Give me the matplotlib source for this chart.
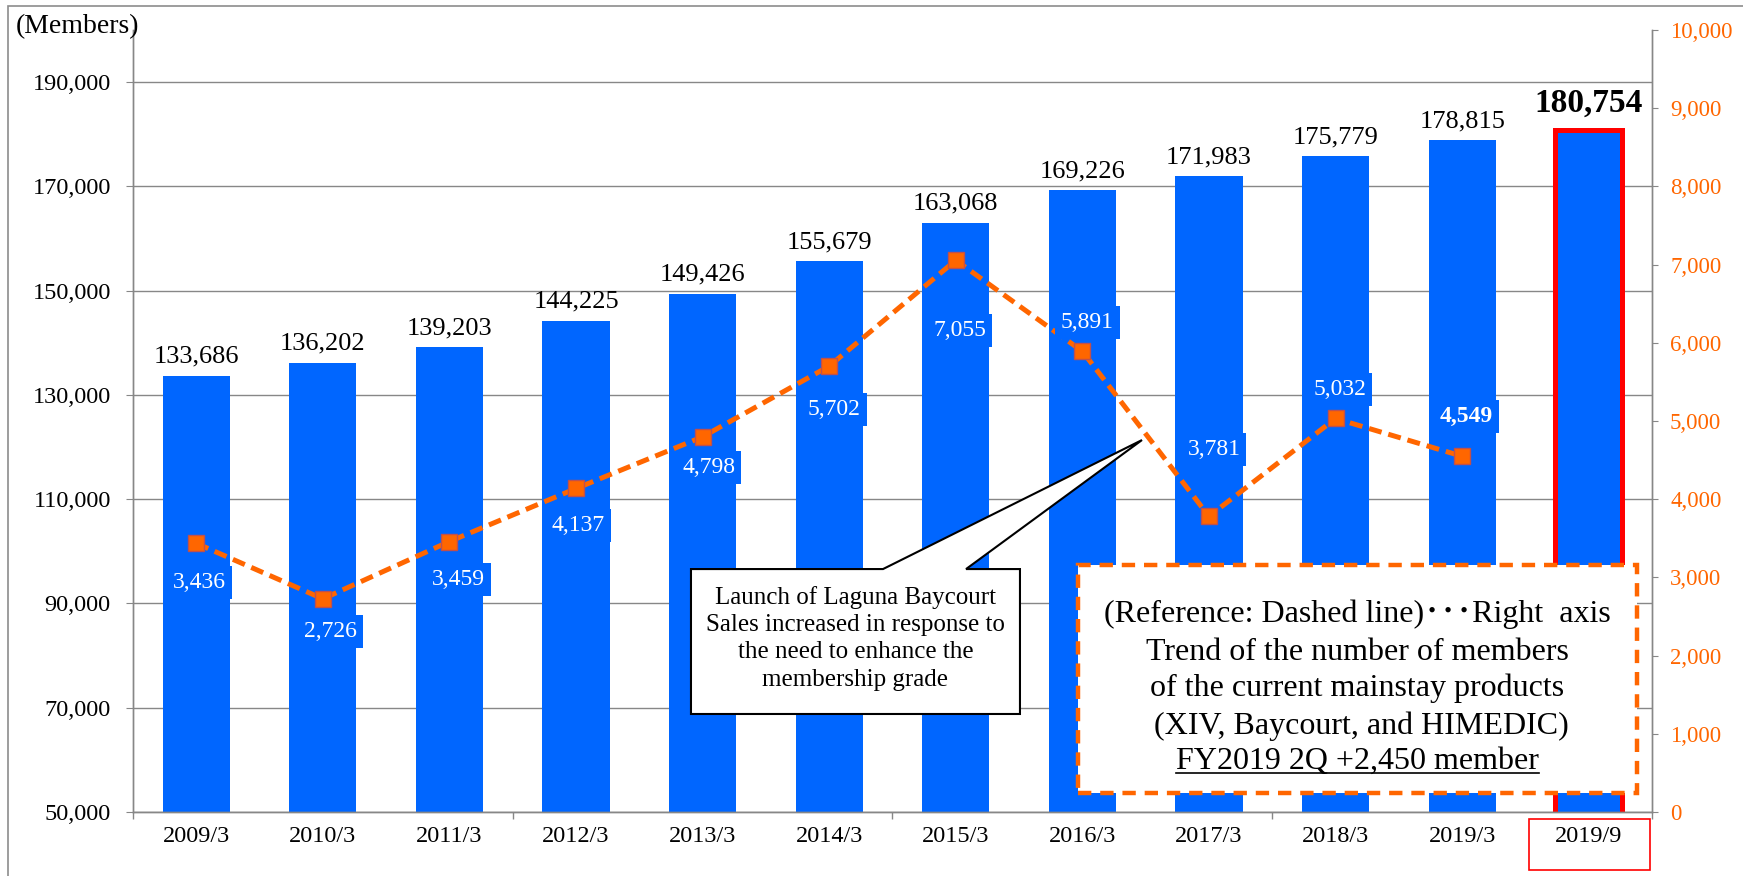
import matplotlib
matplotlib.use("Agg")
import matplotlib.pyplot as plt
from matplotlib.patches import Rectangle, Polygon
from matplotlib.lines import Line2D
from matplotlib.ticker import FuncFormatter, FixedLocator
from matplotlib.transforms import IdentityTransform

# --- data ---
periods = ['2009/3', '2010/3', '2011/3', '2012/3', '2013/3', '2014/3',
           '2015/3', '2016/3', '2017/3', '2018/3', '2019/3', '2019/9']
members = [133686, 136202, 139203, 144225, 149426, 155679,
           163068, 169226, 171983, 175779, 178815, 180754]
# mainstay products (XIV, Baycourt, HIMEDIC), right axis, no value for 2019/9
mainstay = [3436, 2726, 3459, 4137, 4798, 5702, 7055, 5891, 3781, 5032, 4549]

callout_lines = ['Launch of Laguna Baycourt', 'Sales increased in response to',
                 'the need to enhance the', 'membership grade']
note_lines = ['(Reference: Dashed line)\uff65\uff65\uff65Right  axis',
              'Trend of the number of members',
              'of the current mainstay products',
              ' (XIV, Baycourt, and HIMEDIC)',
              'FY2019 2Q +2,450 member']

# label offsets for the line values (pixels), picked to match the original
lab_off = [(3, -39), (8, -33), (9, -38), (2, -37), (6, -31), (5, -43),
           (4, -70), (5, 29), (5, 67), (4, 29), (4, 40)]

BLUE = '#0066FF'
ORANGE = '#FF6600'
GRAY = '#878787'

plt.rcParams['font.family'] = ['Liberation Serif', 'Noto Sans CJK JP']

fig = plt.figure(figsize=(17.43, 8.76), dpi=100)
ax = fig.add_axes([133 / 1743, 64 / 876, 1519 / 1743, 782 / 876])
ax2 = ax.twinx()

x = list(range(len(periods)))
bars = ax.bar(x, members, width=0.53, color=BLUE, zorder=2)
bars[-1].set_edgecolor('#FF0000')
bars[-1].set_linewidth(3.6)

ax.set_xlim(-0.5, len(periods) - 0.5)
ax.set_ylim(50000, 200000)
ax.set_yticks(range(50000, 190001, 20000))
ax.yaxis.set_major_formatter(FuncFormatter(lambda v, p: f'{v:,.0f}'))
ax.grid(axis='y', color=GRAY, lw=1.0, zorder=0)
ax.set_axisbelow(True)
ax.set_xticks(x)
ax.set_xticklabels(periods)
ax.xaxis.set_minor_locator(FixedLocator([-0.5, 2.5, 5.5, 8.5, 11.5]))
ax.tick_params(axis='x', which='major', length=0, pad=10, labelsize=17.5)
ax.tick_params(axis='x', which='minor', length=5, color=GRAY, width=1)
ax.tick_params(axis='y', length=5, pad=11, color=GRAY, labelsize=17.5)

for i, v in enumerate(members):
    last = i == len(members) - 1
    ax.annotate(f'{v:,}', (i, v), xytext=(0, 19 if last else 13),
                textcoords='offset pixels', ha='center', va='baseline',
                fontsize=24 if last else 19,
                fontweight='bold' if last else 'normal', zorder=5)

# right axis line
ax2.plot(x[:len(mainstay)], mainstay, color=ORANGE, lw=3.6,
         dashes=(2.6, 1.4), marker='s', markersize=11.5,
         markerfacecolor=ORANGE, markeredgecolor='#C0504D',
         markeredgewidth=1, zorder=3)
ax2.set_ylim(0, 10000)
ax2.set_yticks(range(0, 10001, 1000))
ax2.yaxis.set_major_formatter(FuncFormatter(lambda v, p: f'{v:,.0f}'))
ax2.tick_params(axis='y', length=4.5, pad=8.5, color=GRAY,
                labelcolor=ORANGE, labelsize=16.5)

for i, v in enumerate(mainstay):
    last = i == len(mainstay) - 1
    ax2.annotate(f'{v:,}', (i, v), xytext=lab_off[i],
                 textcoords='offset pixels', ha='center', va='center',
                 color='white', fontsize=17,
                 fontweight='bold' if last else 'normal',
                 bbox=dict(boxstyle='square,pad=0.25', fc=BLUE, ec='none'),
                 zorder=6)

for a in (ax, ax2):
    a.spines['top'].set_visible(False)
    for s in ('left', 'right', 'bottom'):
        a.spines[s].set_color(GRAY)
        a.spines[s].set_linewidth(1.0)

# callout shape (left axis data coords)
bx0, bx1, by0, by1 = 3.908, 6.507, 68800, 96600
callout = Polygon([(bx0, by0), (bx1, by0), (bx1, by1), (6.081, by1),
                   (7.471, 121350), (5.425, by1), (bx0, by1)],
                  closed=True, fc='white', ec='black', lw=1.5,
                  transform=ax.transData, zorder=7)
ax2.add_patch(callout)
ax2.text((bx0 + bx1) / 2, 83300, '\n'.join(callout_lines),
         transform=ax.transData, ha='center', va='center', fontsize=18,
         linespacing=1.3, zorder=8)

# dashed reference box
note_box = Rectangle((0.622, 0.0243), 0.368, 0.292, transform=ax.transAxes,
                     fc='white', ec=ORANGE, lw=3.2, ls=(0, (3, 2)), zorder=7)
ax2.add_patch(note_box)
baselines = [0.243, 0.1944, 0.1483, 0.0997, 0.0550]
note_texts = []
for s, yb in zip(note_lines, baselines):
    t = ax2.text(0.806, yb, s, transform=ax.transAxes, ha='center',
                 va='baseline', fontsize=23, zorder=8)
    note_texts.append(t)

# red frame round the last tick label
ax.add_patch(Rectangle((0.919, -0.0742), 0.0797, 0.0652, transform=ax.transAxes,
                       fill=False, ec='#FF0000', lw=1.2, clip_on=False))

fig.text(16 / 1743, 1 - 27 / 876, '(Members)', ha='left', va='center', fontsize=20)

# outer frame
fig.add_artist(Rectangle((8 / 1743, -0.1), 1.1, 1.1 - 6 / 876,
                         transform=fig.transFigure, fill=False, ec='#8C8C8C',
                         lw=1.2))

# underline the last line of the note
fig.canvas.draw()
r = fig.canvas.get_renderer()
bb = note_texts[-1].get_window_extent(r)
yb = ax.transAxes.transform((0, baselines[-1]))[1] - 4
fig.add_artist(Line2D([bb.x0, bb.x1], [yb, yb], color='black', lw=1.2,
                      transform=IdentityTransform(), zorder=10))

fig.savefig('out.png', dpi=100)
